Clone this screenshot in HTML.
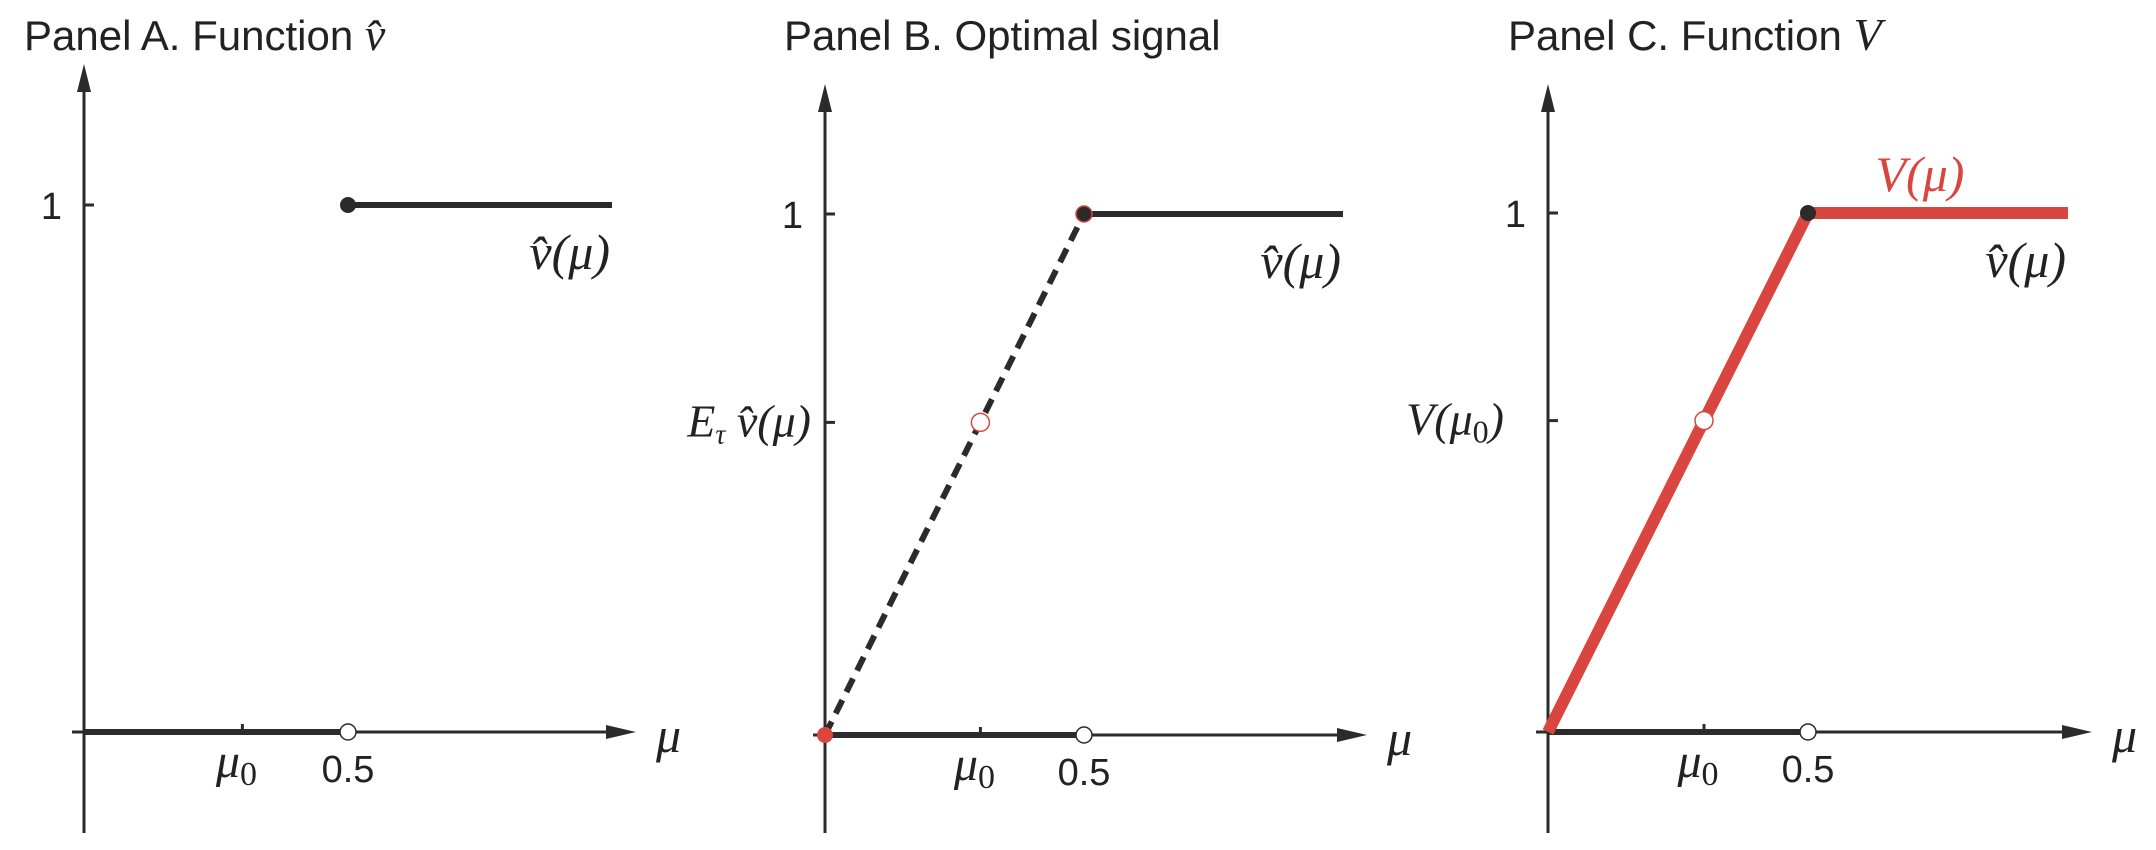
<!DOCTYPE html>
<html><head><meta charset="utf-8"><style>
html,body{margin:0;padding:0;background:#fff;}
svg{display:block;}
.t{font-family:"Liberation Sans",sans-serif;fill:#222;}
.m{font-family:"Liberation Serif",serif;font-style:italic;fill:#222;}
</style></head><body>
<svg id="c" width="2156" height="850" viewBox="0 0 2156 850" xmlns="http://www.w3.org/2000/svg"></svg>
<script>
// data
const panelTitles = ["Panel A. Function ", "Panel B. Optimal signal", "Panel C. Function "];
const titleSuffix = ["v̂", "", "V"];
const mu0 = 0.3;
const threshold = 0.5;
const xMax = 1.0;
const vhatHigh = 1;
const vhatLow = 0;
const concavValueAtMu0 = 0.6;
// layout (not data)
const panels = [
  {ox:84, oy:732, y1:205, unit:528, top:64, bottom:833, tx:24, midOff:14},
  {ox:825, oy:735, y1:214, unit:518, top:84, bottom:833, tx:784, midOff:14},
  {ox:1548, oy:732, y1:213, unit:520, top:84, bottom:833, tx:1508, midOff:44}
];
const NS="http://www.w3.org/2000/svg";
const svg=document.getElementById('c');
function el(tag,attrs,parent){const e=document.createElementNS(NS,tag);for(const k in attrs)e.setAttribute(k,attrs[k]);(parent||svg).appendChild(e);return e;}
const dark="#2b2b2b", red="#d9453f";

panels.forEach((p,i)=>{
  const g=el('g',{});
  
  
  const X=v=>p.ox+v*p.unit;
  const Y=v=>p.oy-v*(p.oy-p.y1);
  // title
  const tt=el('text',{x:p.tx,y:50,'font-size':42,class:'t'},g);
  
  
  tt.textContent=panelTitles[i];
  if(titleSuffix[i]){const ts=el('tspan',{'font-family':'Liberation Serif','font-style':'italic','font-size':46},tt);ts.textContent=titleSuffix[i];}
  // axes
  const ya=el('line',{x1:p.ox,y1:p.bottom,x2:p.ox,y2:p.top+20,stroke:dark,'stroke-width':3},g);
  
  
  el('path',{d:`M${p.ox} ${p.top} L${p.ox-7} ${p.top+28} L${p.ox+7} ${p.top+28}Z`,fill:dark},g);
  const xa=el('line',{x1:p.ox-12,y1:p.oy,x2:X(xMax)+5,y2:p.oy,stroke:dark,'stroke-width':3},g);
  
  
  const tip=X(xMax)+24;
  el('path',{d:`M${tip} ${p.oy} L${tip-30} ${p.oy-7} L${tip-30} ${p.oy+7}Z`,fill:dark},g);
  const ml=el('text',{x:tip+20,y:p.oy+20,'font-size':50,class:'m'},g);
  
  
  ml.textContent='μ';
  // ticks
  el('line',{x1:p.ox,y1:Y(vhatHigh),x2:p.ox+10,y2:Y(vhatHigh),stroke:dark,'stroke-width':3},g);
  el('line',{x1:X(mu0),y1:p.oy,x2:X(mu0),y2:p.oy-8,stroke:dark,'stroke-width':3},g);
  const t1=el('text',{x:p.ox-22,y:Y(vhatHigh)+14,'font-size':38,'text-anchor':'end',class:'t'},g);
  
  
  t1.textContent='1';
  const tm=el('text',{x:X(mu0)-6,y:p.oy+45,'font-size':48,'text-anchor':'middle',class:'m'},g);
  
  
  tm.textContent='μ';
  const sub=el('tspan',{'font-size':34,'font-style':'normal',dy:8},tm);sub.textContent='0';
  const th=el('text',{x:X(threshold),y:p.oy+50,'font-size':38,'text-anchor':'middle',class:'t'},g);
  
  
  th.textContent='0.5';
  if(i>0){
    el('line',{x1:p.ox,y1:Y(concavValueAtMu0),x2:p.ox+10,y2:Y(concavValueAtMu0),stroke:dark,'stroke-width':3},g);
    const ml2=el('text',{x:p.ox-p.midOff,y:Y(concavValueAtMu0)+14,'font-size':46,'text-anchor':'end',class:'m'},g);
    
    
    ml2.textContent = i==1 ? 'E' : 'V(μ';
    if(i==1){const s=el('tspan',{'font-size':28,dy:7},ml2);s.textContent='τ';const r=el('tspan',{dy:-7},ml2);r.textContent=' v̂(μ)';}
    else{const s=el('tspan',{'font-size':32,'font-style':'normal',dy:8},ml2);s.textContent='0';const r=el('tspan',{dy:-8},ml2);r.textContent=')';}
  }
  // low segment
  const lo=el('line',{x1:p.ox,y1:Y(vhatLow),x2:X(threshold),y2:Y(vhatLow),stroke:dark,'stroke-width':6},g);
  
  
  // high segment
  if(i==2){
    const vl=el('polyline',{points:`${X(0)},${Y(0)} ${X(threshold)},${Y(vhatHigh)} ${X(xMax)},${Y(vhatHigh)}`,fill:'none',stroke:red,'stroke-width':12},g);
    
    
  } else {
    const hi=el('line',{x1:X(threshold),y1:Y(vhatHigh),x2:X(xMax),y2:Y(vhatHigh),stroke:dark,'stroke-width':6},g);
    
    
  }
  if(i==1){
    const d=el('line',{x1:X(0),y1:Y(0),x2:X(threshold),y2:Y(vhatHigh),stroke:dark,'stroke-width':6,'stroke-dasharray':'15 9'},g);
    
    
    const r0=el('circle',{cx:X(0),cy:Y(0),r:8,fill:red},g);
    
    
  }
  if(i>0){
    const mp=el('circle',{cx:X(mu0),cy:Y(concavValueAtMu0),r:9,fill:'#fff',stroke:red,'stroke-width':1.5},g);
    
    
  }
  const fp=el('circle',{cx:X(threshold),cy:Y(vhatHigh),r:8,fill:dark,stroke:i==1?red:'none','stroke-width':1.5},g);
  
  
  const op=el('circle',{cx:X(threshold),cy:Y(vhatLow),r:8,fill:'#fff',stroke:dark,'stroke-width':1.5},g);
  
  
  // vhat label
  const vl2=el('text',{x:X(xMax)-2,y:Y(vhatHigh)+64,'font-size':50,'text-anchor':'end',class:'m'},g);
  
  
  vl2.textContent='v̂(μ)';
  if(i==2){
    const rl=el('text',{x:X(xMax)-148,y:Y(vhatHigh)-22,'font-size':50,'text-anchor':'middle',class:'m',style:'fill:'+red},g);
    
    
    rl.textContent='V(μ)';
  }
});
</script>
</body></html>
